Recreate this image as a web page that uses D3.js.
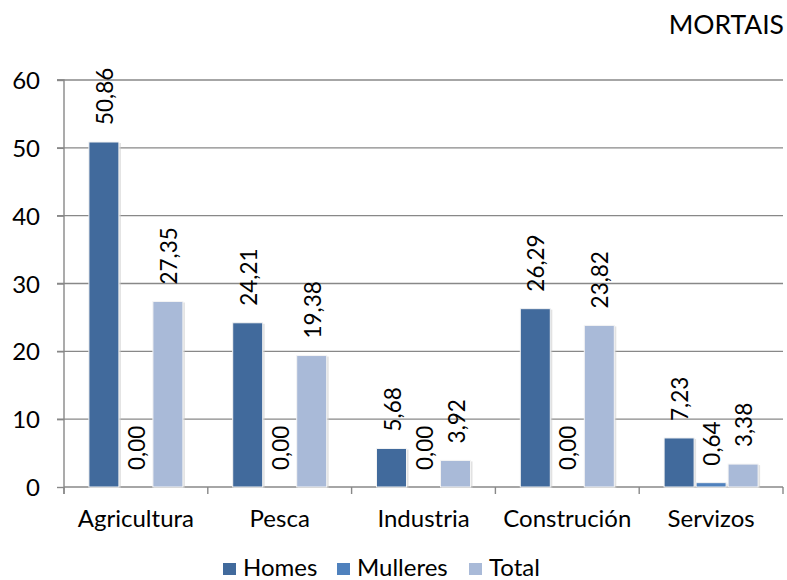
<!DOCTYPE html>
<html><head><meta charset="utf-8">
<script src="https://cdn.jsdelivr.net/npm/d3@7"></script>
<style>body{margin:0;background:#fff}svg{display:block}text{font-family:Lato,"Open Sans",sans-serif;fill:#000}</style>
</head><body><svg id="c" width="787" height="580"></svg>
<script>
const categories = ["Agricultura","Pesca","Industria","Construción","Servizos"];
const seriesNames = ["Homes","Mulleres","Total"];
const homes = [50.86,24.21,5.68,26.29,7.23];
const mulleres = [0.00,0.00,0.00,0.00,0.64];
const total = [27.35,19.38,3.92,23.82,3.38];
const yTicks = [0,10,20,30,40,50,60];
const colors = ["#416A9C","#4F81BD","#A9BAD8"];
const title = "MORTAIS";

(function(){
const seriesVals = [homes, mulleres, total];
const svg = d3.select("#c");
const pL = 64, pR = 783, pT = 80, pB = 487;
const x = d3.scaleBand().domain(categories).range([pL, pR]).paddingInner(0).paddingOuter(0);
const y = d3.scaleLinear().domain([0,60]).range([pB, pT]);
const slot = 32, bw = 30;
const grid = "#888888";

// gridlines
svg.append("g").selectAll("line").data(yTicks.slice(1)).join("line")
  .attr("x1", pL-7).attr("x2", pR).attr("y1", d=>y(d)).attr("y2", d=>y(d))
  .attr("stroke",grid).attr("stroke-width",1.4);

// y axis
const ya = svg.append("g").attr("transform",`translate(${pL},0)`)
  .call(d3.axisLeft(y).tickValues(yTicks).tickSize(7).tickPadding(17).tickFormat(d3.format("d")));
ya.select(".domain").attr("stroke",grid).attr("stroke-width",1.4).attr("d",`M-7,${pT}H0V${pB+7}`);
ya.selectAll(".tick line").attr("stroke",grid).attr("stroke-width",1.4);
ya.selectAll(".tick text").attr("font-size",24).attr("dy","0.36em").style("font-family","Lato, 'Open Sans', sans-serif").attr("fill","#000");

// x axis
const xa = svg.append("g").attr("transform",`translate(0,${pB})`);
xa.append("line").attr("x1",pL).attr("x2",pR).attr("y1",0).attr("y2",0).attr("stroke",grid).attr("stroke-width",1.4);
const bounds = categories.map(c=>x(c)).concat([pR]);
xa.selectAll("line.t").data(bounds).join("line").attr("class","t")
  .attr("x1",d=>d).attr("x2",d=>d).attr("y1",0).attr("y2",7).attr("stroke",grid).attr("stroke-width",1.4);
xa.selectAll("text").data(categories).join("text")
  .attr("x",d=>x(d)+x.bandwidth()/2).attr("y",40).attr("text-anchor","middle").attr("font-size",24).text(d=>d);

// bars
const groupW = 3*slot;
categories.forEach((c,i)=>{
  const x0 = x(c) + (x.bandwidth()-groupW)/2;
  seriesVals.forEach((vals,s)=>{
    const v = vals[i];
    const bx = x0 + s*slot + (slot-bw)/2;
    if (v>0) {
      svg.append("rect").attr("x",bx+1).attr("y",y(v)+1).attr("width",bw+1).attr("height",pB-y(v))
        .attr("fill","#cfcfcf").attr("opacity",0.6);
      svg.append("rect").attr("x",bx).attr("y",y(v)).attr("width",bw).attr("height",pB-y(v))
        .attr("fill",colors[s]).attr("stroke","#f4f4f4").attr("stroke-width",1);
    }
    const lx = x0 + s*slot + slot/2 + 9, ly = y(v) - 17;
    svg.append("text").attr("transform",`translate(${lx},${ly}) rotate(-90)`)
      .attr("font-size",22.5).attr("text-anchor","start").text(d3.format(".2f")(v).replace(".",","));
  });
});

// title
svg.append("text").attr("x",784).attr("y",34).attr("text-anchor","end").attr("font-size",26.5).text(title);

// legend
const legX = [223, 337, 469];
seriesNames.forEach((n,i)=>{
  svg.append("rect").attr("x",legX[i]).attr("y",563).attr("width",13).attr("height",12).attr("fill",colors[i]);
  svg.append("text").attr("x",legX[i]+20).attr("y",576).attr("font-size",24).text(n);
});
})();
</script></body></html>
